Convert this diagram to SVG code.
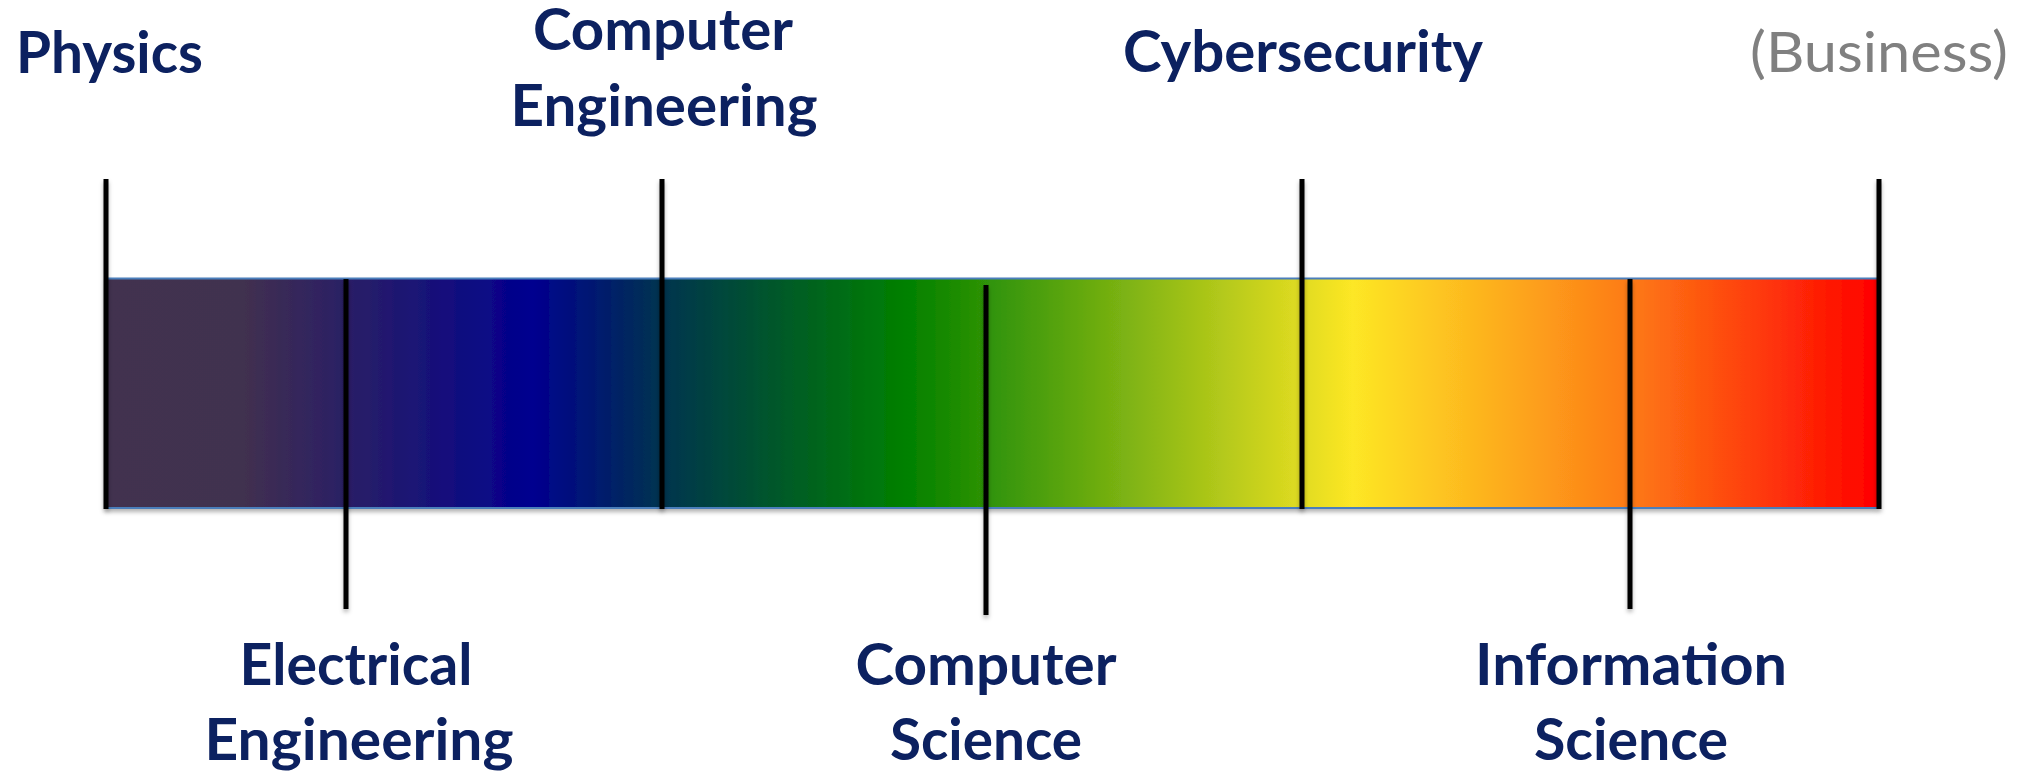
<svg xmlns="http://www.w3.org/2000/svg" width="2028" height="771" viewBox="0 0 2028 771">
  <style>
    .lbl { font-family: Lato, "Open Sans", "Liberation Sans", sans-serif; font-weight: 700; font-size: 57px; fill: #0c2160; }
    .gry { font-family: Lato, "Open Sans", "Liberation Sans", sans-serif; font-weight: 400; font-size: 57px; fill: #808080; }
    .tick { stroke: #000; stroke-width: 5; fill: none; }
  </style>
  <defs>
    <linearGradient id="spec" x1="106" y1="0" x2="1877" y2="0" gradientUnits="userSpaceOnUse">
      <stop offset="0" stop-color="#42304f"/>
      <stop offset="0.078" stop-color="#41304f"/>
      <stop offset="0.241" stop-color="#00008f"/>
      <stop offset="0.314" stop-color="#03344f"/>
      <stop offset="0.451" stop-color="#008000"/>
      <stop offset="0.704" stop-color="#fde725"/>
      <stop offset="0.861" stop-color="#fd7a16"/>
      <stop offset="1" stop-color="#ff0000"/>
    </linearGradient>
    <filter id="sh" x="-20%" y="-20%" width="140%" height="140%">
      <feDropShadow dx="0" dy="3" stdDeviation="2" flood-color="#000" flood-opacity="0.3"/>
    </filter>
  </defs>

  <g id="bar">
    <rect x="106" y="278" width="1771" height="231" fill="url(#spec)" filter="url(#sh)"/>
    <line x1="106" y1="278.5" x2="1877" y2="278.5" stroke="#4a7ebb" stroke-width="2"/>
    <line x1="106" y1="508" x2="1877" y2="508" stroke="#4a7ebb" stroke-width="2"/>
  </g>

  <g id="connectors" filter="url(#sh)">
    <line class="tick" x1="106" y1="179" x2="106" y2="509"/>
    <line class="tick" x1="662" y1="179" x2="662" y2="509"/>
    <line class="tick" x1="1302" y1="179" x2="1302" y2="509"/>
    <line class="tick" x1="1879" y1="179" x2="1879" y2="509"/>
    <line class="tick" x1="346" y1="279" x2="346" y2="609"/>
    <line class="tick" x1="986" y1="285" x2="986" y2="615"/>
    <line class="tick" x1="1630" y1="279" x2="1630" y2="609"/>
  </g>

  <g id="physics">
    <text class="lbl" x="16" y="73" textLength="187" lengthAdjust="spacingAndGlyphs">Physics</text>
  </g>
  <g id="computer-engineering">
    <text class="lbl" x="663" y="50" text-anchor="middle" textLength="260" lengthAdjust="spacingAndGlyphs">Computer</text>
    <text class="lbl" x="664" y="126" text-anchor="middle" textLength="307" lengthAdjust="spacingAndGlyphs">Engineering</text>
  </g>
  <g id="cybersecurity">
    <text class="lbl" x="1303" y="72" text-anchor="middle" textLength="360" lengthAdjust="spacingAndGlyphs">Cybersecurity</text>
  </g>
  <g id="business">
    <text class="gry" x="1879" y="72" text-anchor="middle" textLength="258" lengthAdjust="spacingAndGlyphs">(Business)</text>
  </g>
  <g id="electrical-engineering">
    <text class="lbl" x="356" y="685" text-anchor="middle" textLength="233" lengthAdjust="spacingAndGlyphs">Electrical</text>
    <text class="lbl" x="359" y="760" text-anchor="middle" textLength="309" lengthAdjust="spacingAndGlyphs">Engineering</text>
  </g>
  <g id="computer-science">
    <text class="lbl" x="986" y="685" text-anchor="middle" textLength="261" lengthAdjust="spacingAndGlyphs">Computer</text>
    <text class="lbl" x="986" y="760" text-anchor="middle" textLength="192" lengthAdjust="spacingAndGlyphs">Science</text>
  </g>
  <g id="information-science">
    <text class="lbl" x="1631" y="685" text-anchor="middle" textLength="312" lengthAdjust="spacingAndGlyphs">Information</text>
    <text class="lbl" x="1631" y="760" text-anchor="middle" textLength="194" lengthAdjust="spacingAndGlyphs">Science</text>
  </g>
</svg>
